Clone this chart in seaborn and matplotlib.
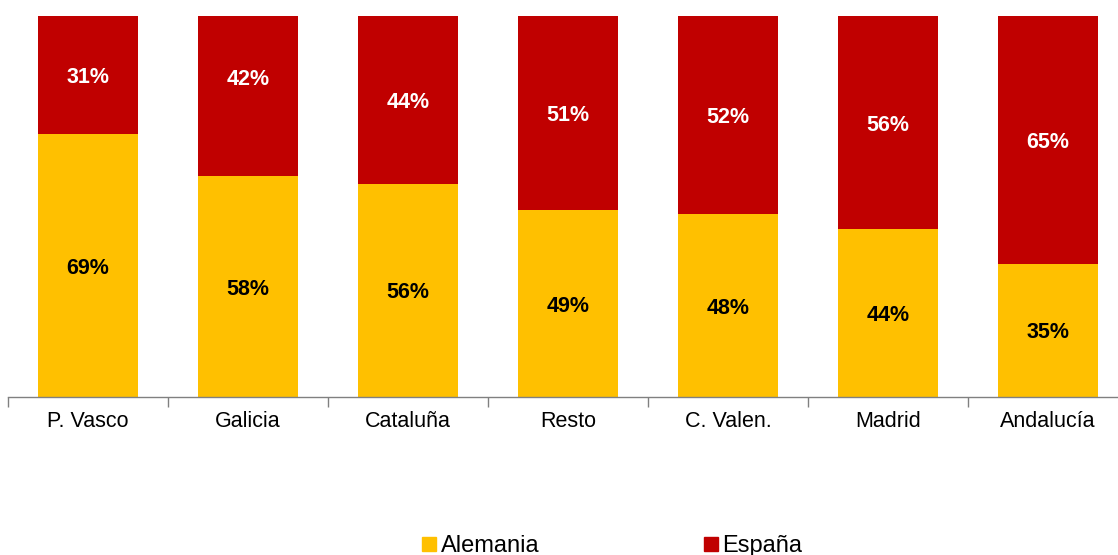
import pandas as pd
import seaborn as sns
import matplotlib.pyplot as plt
from matplotlib.lines import Line2D

# Data
regiones = ["P. Vasco", "Galicia", "Cataluña", "Resto", "C. Valen.", "Madrid", "Andalucía"]
alemania = [69, 58, 56, 49, 48, 44, 35]
espana = [31, 42, 44, 51, 52, 56, 65]

df = pd.DataFrame({"region": regiones, "Alemania": alemania, "España": espana})
df["total"] = df["Alemania"] + df["España"]

sns.set_style("white")
plt.rcParams['font.family'] = ['Liberation Sans', 'DejaVu Sans']

fig = plt.figure(figsize=(11.18, 5.55), dpi=100)
ax = fig.add_axes([8/1118, 158/555, 1120/1118, 381/555])

amarillo = "#FFC000"
rojo = "#C00000"

# stacked: total in red, Alemania in yellow on top
sns.barplot(data=df, x="region", y="total", color=rojo, width=0.625, saturation=1,
            linewidth=0, ax=ax)
sns.barplot(data=df, x="region", y="Alemania", color=amarillo, width=0.625, saturation=1,
            linewidth=0, ax=ax)

# the Galicia label sits higher than centre in the original
nudge = {1: 5}
for i, (a, e) in enumerate(zip(alemania, espana)):
    ax.text(i, a / 2, f"{a}%", ha="center", va="center_baseline", fontsize=15.5,
            fontweight="bold", color="black")
    ax.text(i, a + e / 2 + nudge.get(i, 0), f"{e}%", ha="center", va="center_baseline",
            fontsize=15.5, fontweight="bold", color="white")

ax.set_xlim(-0.5, 6.5)
ax.set_ylim(0, 100)
ax.set_xlabel("")
ax.set_ylabel("")
ax.set_yticks([])
for s in ["top", "right", "left"]:
    ax.spines[s].set_visible(False)
ax.spines["bottom"].set_color("#808080")
ax.spines["bottom"].set_linewidth(1)

ax.set_xticks(range(len(regiones)))
ax.set_xticklabels(regiones, fontsize=15.5, color="black")
ax.set_xticks([i - 0.5 for i in range(len(regiones) + 1)], minor=True)
ax.tick_params(axis="x", which="major", length=0, pad=10)
ax.tick_params(axis="x", which="minor", bottom=True, length=7, color="#808080",
               width=1, direction="out")

handles = [Line2D([], [], marker="s", linestyle="", color=amarillo, markersize=10),
           Line2D([], [], marker="s", linestyle="", color=rojo, markersize=10)]
fig.legend(handles, ["Alemania", "España"], loc="center", ncol=2,
           bbox_to_anchor=(611/1118, 1 - 546/555), frameon=False, fontsize=17,
           handletextpad=0.1, columnspacing=6.85, handlelength=0.8,
           labelcolor="black")

fig.savefig("out.png", dpi=100)
